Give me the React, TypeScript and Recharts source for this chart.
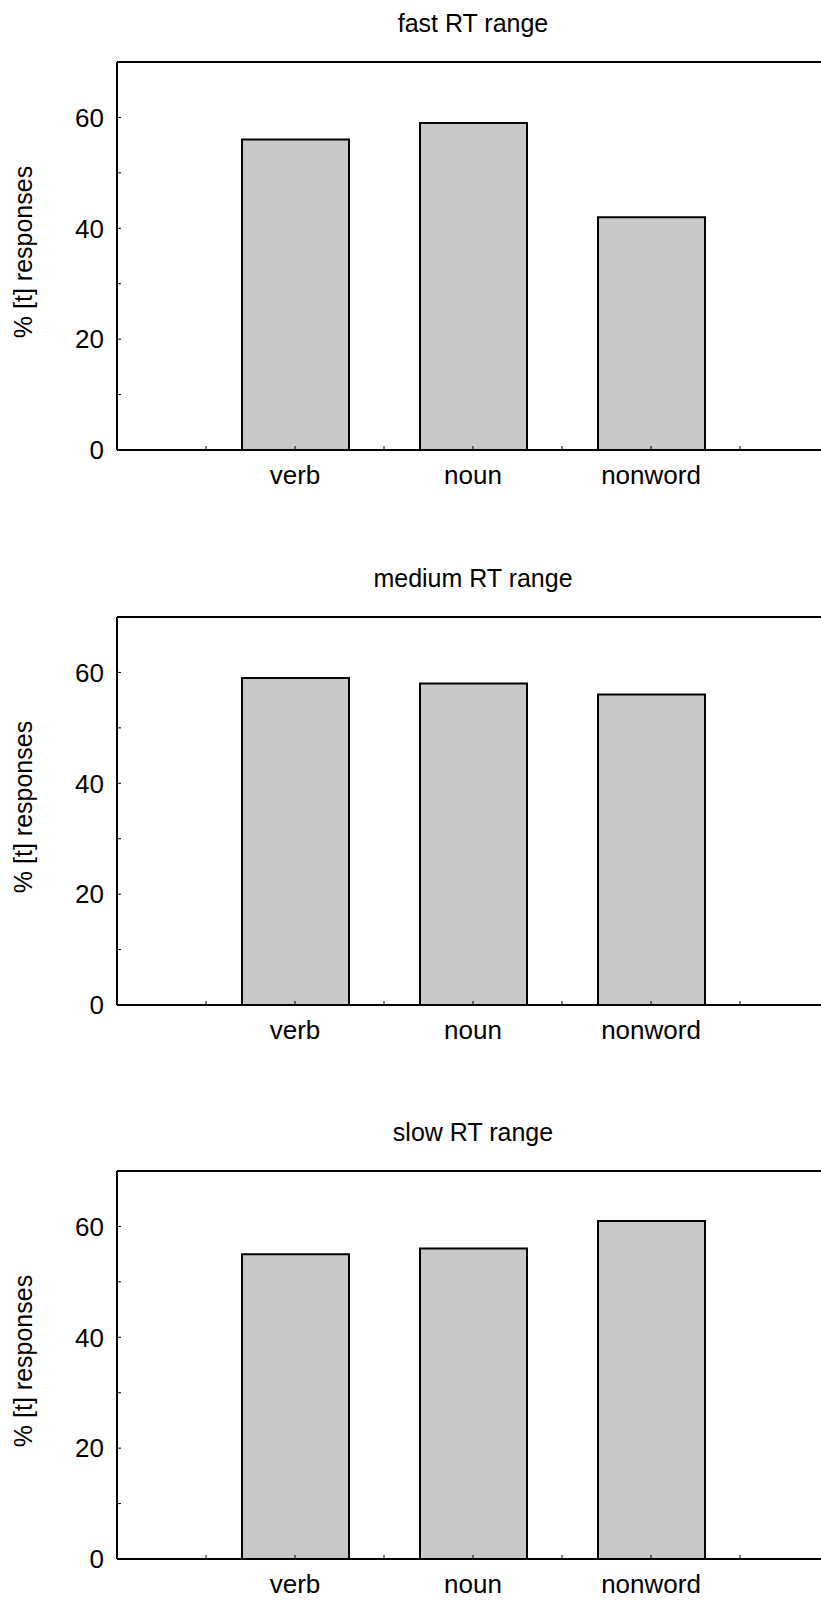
import React from "react";
import { BarChart, Bar, XAxis, YAxis } from "recharts";

// word classes along the x axis
const categories = ["verb", "noun", "nonword"];

// % [t] responses per RT range
const fastValues = [56, 59, 42];
const mediumValues = [59, 58, 56];
const slowValues = [55, 56, 61];

const panelTitles = ["fast RT range", "medium RT range", "slow RT range"];

const yTicks = [0, 10, 20, 30, 40, 50, 60];
const xTicks = [0.5, 1, 1.5, 2, 2.5, 3, 3.5];

const FONT = '"Liberation Sans", Arial, Helvetica, sans-serif';

interface PanelProps {
  title: string;
  values: number[];
  top: number;
}

const Panel = ({ title, values, top }: PanelProps) => {
  const data = categories.map((word, i) => ({
    word,
    pos: i + 1,
    value: values[i],
  }));

  return (
    <div
      style={{
        position: "absolute",
        left: 0,
        top,
        width: 821,
        height: 500,
        overflow: "hidden",
      }}
    >
      <BarChart
        width={860}
        height={500}
        data={data}
        margin={{ top: 61, right: 31, bottom: 0, left: 0 }}
        style={{ fontFamily: FONT }}
      >
        {/* top frame line with mirrored ticks, carries the panel title */}
        <XAxis
          xAxisId="top"
          dataKey="pos"
          orientation="top"
          type="number"
          domain={[0, 4]}
          ticks={xTicks}
          interval={0}
          height={1}
          tick={false}
          tickSize={-4}
          axisLine={{ stroke: "#000", strokeWidth: 2 }}
          tickLine={{ stroke: "#000", strokeWidth: 1 }}
          label={{
            value: title,
            position: "top",
            offset: 29,
            style: { fontSize: 25, fill: "#000", fontFamily: FONT },
          }}
        />
        <XAxis
          xAxisId="bottom"
          dataKey="pos"
          type="number"
          domain={[0, 4]}
          ticks={xTicks}
          interval={0}
          height={50}
          tickSize={-4}
          tickMargin={20}
          tickFormatter={(v: number) =>
            Number.isInteger(v) ? categories[v - 1] : ""
          }
          tick={{ fontSize: 26, fill: "#000", fontFamily: FONT }}
          axisLine={{ stroke: "#000", strokeWidth: 2 }}
          tickLine={{ stroke: "#000", strokeWidth: 1 }}
        />
        <YAxis
          type="number"
          domain={[0, 70]}
          ticks={yTicks}
          interval={0}
          width={117}
          tickSize={-4}
          tickMargin={17}
          tickFormatter={(v: number) => (v % 20 === 0 ? String(v) : "")}
          tick={{ fontSize: 26, fill: "#000", fontFamily: FONT }}
          axisLine={{ stroke: "#000", strokeWidth: 2 }}
          tickLine={{ stroke: "#000", strokeWidth: 1 }}
          label={{
            value: "% [t] responses",
            angle: -90,
            position: "center",
            dx: -35.5,
            dy: -4,
            style: { fontSize: 25, fill: "#000", fontFamily: FONT },
          }}
        />
        <Bar
          xAxisId="bottom"
          dataKey="value"
          barSize={107}
          fill="#c8c8c8"
          stroke="#000"
          strokeWidth={2}
          isAnimationActive={false}
        />
      </BarChart>
    </div>
  );
};

const App = () => {
  const series = [fastValues, mediumValues, slowValues];
  return (
    <div
      style={{
        position: "absolute",
        left: 0,
        top: 0,
        width: 821,
        height: 1600,
        overflow: "hidden",
        background: "#fff",
      }}
    >
      {series.map((values, i) => (
        <Panel
          key={panelTitles[i]}
          title={panelTitles[i]}
          values={values}
          top={Math.round(i * 554.5)}
        />
      ))}
    </div>
  );
};

export default App;
